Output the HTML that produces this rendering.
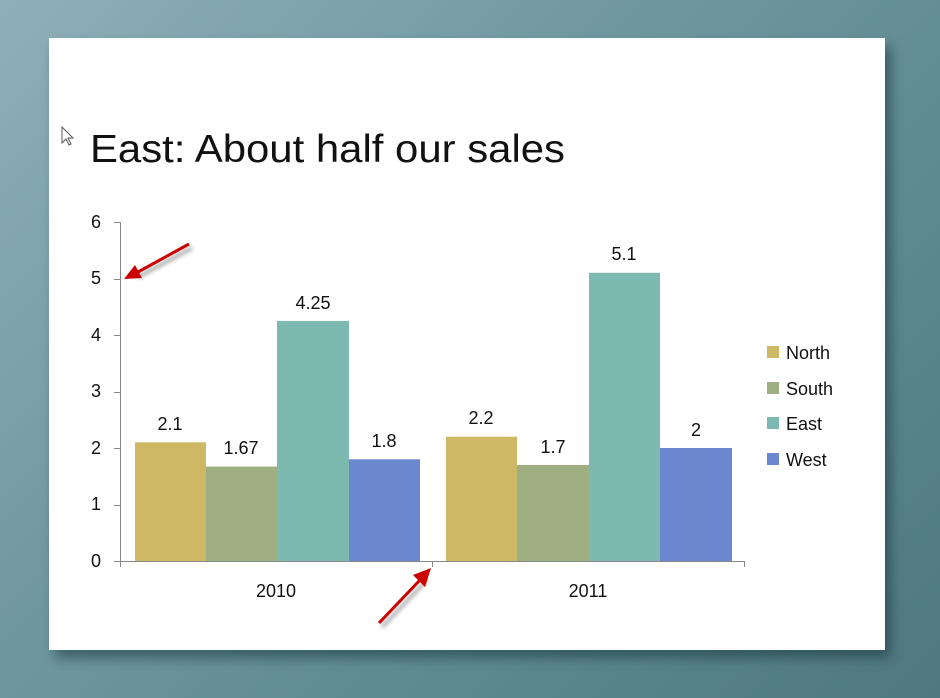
<!DOCTYPE html>
<html><head><style>
html,body{margin:0;padding:0;width:940px;height:698px;overflow:hidden}
body{background:linear-gradient(135deg,#8fb0b8 0%,#6f979f 40%,#5d8890 70%,#4f7880 100%)}
</style></head><body>
<svg width="940" height="698" xmlns="http://www.w3.org/2000/svg" style="position:absolute;left:0;top:0">
<defs>
<filter id="sh" x="-10%" y="-10%" width="130%" height="130%"><feGaussianBlur stdDeviation="6"/></filter>
<filter id="sa"><feGaussianBlur stdDeviation="2"/></filter>
</defs>
<rect x="55" y="46" width="836" height="612" fill="#1e3a40" opacity="0.6" filter="url(#sh)"/>
<rect x="49" y="38" width="836" height="612" fill="#fff"/>
<path d="M62,127 L62,143 L66,139 L69,145 L71,144 L68,138 L73,138 Z" fill="#fff" stroke="#555" stroke-width="1"/>
<text x="90" y="162" font-family="Liberation Sans, sans-serif" font-size="39" fill="#111" textLength="475" lengthAdjust="spacingAndGlyphs">East: About half our sales</text>
<g font-family="Liberation Sans, sans-serif" font-size="18" fill="#111">
<g text-anchor="end">
<text x="101" y="567">0</text><text x="101" y="510">1</text><text x="101" y="454">2</text><text x="101" y="397">3</text><text x="101" y="341">4</text><text x="101" y="284">5</text><text x="101" y="228">6</text>
</g>
<rect x="135" y="442.3" width="71" height="118.7" fill="#cfb865"/>
<rect x="206" y="466.6" width="71" height="94.4" fill="#9eb082"/>
<rect x="277" y="320.9" width="72" height="240.1" fill="#7db9b1"/>
<rect x="349" y="459.3" width="71" height="101.7" fill="#6a87d0"/>
<rect x="446" y="436.7" width="71" height="124.3" fill="#cfb865"/>
<rect x="517" y="465" width="72" height="96" fill="#9eb082"/>
<rect x="589" y="272.8" width="71" height="288.2" fill="#7db9b1"/>
<rect x="660" y="448" width="72" height="113" fill="#6a87d0"/>
<g text-anchor="middle">
<text x="170" y="430">2.1</text><text x="241" y="454">1.67</text><text x="313" y="309">4.25</text><text x="384" y="447">1.8</text>
<text x="481" y="424">2.2</text><text x="553" y="453">1.7</text><text x="624" y="260">5.1</text><text x="696" y="436">2</text>
<text x="276" y="597">2010</text><text x="588" y="597">2011</text>
</g>
<g stroke="#888" stroke-width="1">
<line x1="120.5" y1="222" x2="120.5" y2="561"/>
<line x1="114" y1="222.5" x2="120" y2="222.5"/><line x1="114" y1="279.5" x2="120" y2="279.5"/><line x1="114" y1="335.5" x2="120" y2="335.5"/><line x1="114" y1="392.5" x2="120" y2="392.5"/><line x1="114" y1="448.5" x2="120" y2="448.5"/><line x1="114" y1="505.5" x2="120" y2="505.5"/><line x1="114" y1="561.5" x2="120" y2="561.5"/>
<line x1="120" y1="561.5" x2="745" y2="561.5"/>
<line x1="432.5" y1="561" x2="432.5" y2="567"/><line x1="744.5" y1="561" x2="744.5" y2="567"/><line x1="120.5" y1="561" x2="120.5" y2="567"/>
</g>
<rect x="767" y="346" width="12" height="12" fill="#cfb865"/><text x="786" y="359">North</text>
<rect x="767" y="382" width="12" height="12" fill="#9eb082"/><text x="786" y="395">South</text>
<rect x="767" y="417" width="12" height="12" fill="#7db9b1"/><text x="786" y="430">East</text>
<rect x="767" y="453" width="12" height="12" fill="#6a87d0"/><text x="786" y="466">West</text>
</g>
<g opacity="0.5" filter="url(#sa)" transform="translate(3,4)">
<line x1="189" y1="244" x2="135" y2="273" stroke="#333" stroke-width="3"/>
<line x1="379" y1="623" x2="424" y2="576" stroke="#333" stroke-width="3"/>
</g>
<line x1="189" y1="244" x2="138" y2="272" stroke="#c00" stroke-width="3"/>
<polygon points="124,279 135,265 142,278" fill="#c00"/>
<line x1="379" y1="623" x2="420" y2="580" stroke="#c00" stroke-width="3"/>
<polygon points="431,568 413,575 425,587" fill="#c00"/>
</svg>
</body></html>
